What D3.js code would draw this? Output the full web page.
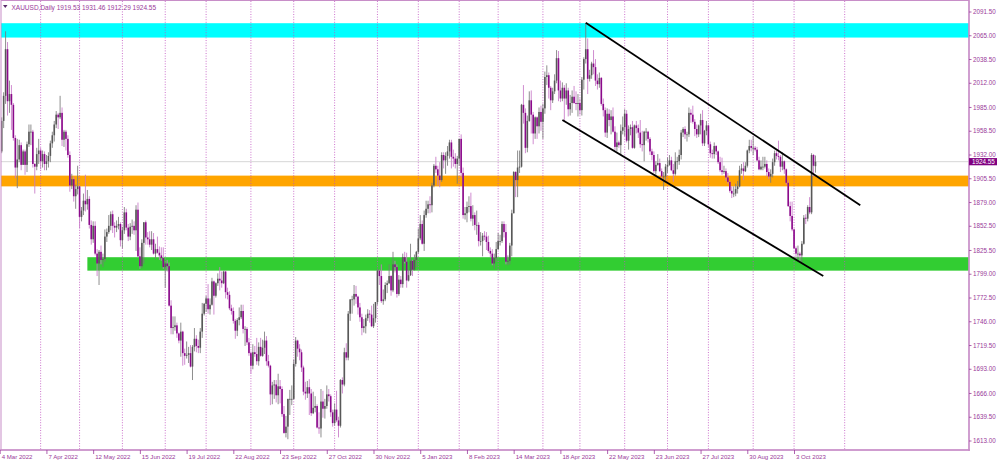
<!DOCTYPE html>
<html><head><meta charset="utf-8">
<script src="https://cdn.jsdelivr.net/npm/d3@7/dist/d3.min.js"></script>
<style>
body{margin:0;background:#fff}
svg{display:block}
text{font-family:"Liberation Sans",Arial,sans-serif}
</style>
</head><body>
<svg id="chart" width="1000" height="462"></svg>
<script>
const symbol = "XAUUSD,Daily";
// [date, open, high, low, close]
const candles = [
["2022-03-04",1936,1974,1934,1970],["2022-03-07",1970,2002,1962,1998],["2022-03-08",1998,2070,1989,2050],["2022-03-09",2050,2058,1976,1992],["2022-03-10",1992,2015,1979,2000],["2022-03-11",2000,2010,1960,1988],
["2022-03-14",1988,1990,1948,1951],["2022-03-15",1951,1954,1906,1918],["2022-03-16",1918,1950,1895,1927],["2022-03-17",1927,1949,1924,1943],["2022-03-18",1943,1946,1915,1921],
["2022-03-21",1921,1938,1921,1936],["2022-03-22",1936,1938,1910,1921],["2022-03-23",1921,1947,1913,1944],["2022-03-24",1944,1966,1941,1958],["2022-03-25",1958,1966,1943,1958],
["2022-03-28",1958,1960,1918,1922],["2022-03-29",1922,1923,1889,1919],["2022-03-30",1919,1940,1915,1933],["2022-03-31",1933,1950,1922,1937],["2022-04-01",1937,1940,1916,1925],
["2022-04-04",1925,1937,1918,1933],["2022-04-05",1933,1936,1915,1922],["2022-04-06",1922,1932,1915,1925],["2022-04-07",1925,1935,1918,1931],["2022-04-08",1931,1948,1924,1945],
["2022-04-11",1945,1958,1940,1954],["2022-04-12",1954,1970,1947,1966],["2022-04-13",1966,1981,1962,1977],["2022-04-14",1977,1979,1961,1974],
["2022-04-18",1974,1998,1972,1979],["2022-04-19",1979,1985,1942,1949],["2022-04-20",1949,1960,1941,1958],["2022-04-21",1958,1960,1937,1950],["2022-04-22",1950,1954,1929,1932],
["2022-04-25",1932,1936,1891,1898],["2022-04-26",1898,1911,1894,1905],["2022-04-27",1905,1908,1880,1886],["2022-04-28",1886,1899,1872,1894],["2022-04-29",1894,1920,1888,1897],
["2022-05-02",1897,1898,1850,1863],["2022-05-03",1863,1874,1858,1870],["2022-05-04",1870,1889,1865,1881],["2022-05-05",1881,1910,1869,1877],["2022-05-06",1877,1893,1871,1883],
["2022-05-09",1883,1886,1850,1854],["2022-05-10",1854,1859,1832,1838],["2022-05-11",1838,1858,1834,1853],["2022-05-12",1853,1858,1820,1822],["2022-05-13",1822,1827,1797,1811],
["2022-05-16",1811,1826,1787,1824],["2022-05-17",1824,1831,1810,1815],["2022-05-18",1815,1822,1807,1816],["2022-05-19",1816,1849,1813,1841],["2022-05-20",1841,1850,1835,1846],
["2022-05-23",1846,1865,1844,1853],["2022-05-24",1853,1869,1848,1866],["2022-05-25",1866,1870,1845,1853],["2022-05-26",1853,1857,1840,1851],["2022-05-27",1851,1859,1846,1853],
["2022-05-30",1853,1863,1849,1855],["2022-05-31",1855,1857,1830,1837],["2022-06-01",1837,1852,1828,1848],["2022-06-02",1848,1874,1844,1868],["2022-06-03",1868,1872,1848,1851],
["2022-06-06",1851,1855,1836,1841],["2022-06-07",1841,1856,1837,1852],["2022-06-08",1852,1860,1844,1853],["2022-06-09",1853,1858,1843,1848],["2022-06-10",1848,1876,1825,1871],
["2022-06-13",1871,1879,1818,1819],["2022-06-14",1819,1829,1805,1808],["2022-06-15",1808,1838,1806,1834],["2022-06-16",1834,1857,1811,1857],["2022-06-17",1857,1859,1832,1840],
["2022-06-20",1840,1846,1832,1838],["2022-06-21",1838,1847,1829,1832],["2022-06-22",1832,1847,1826,1838],["2022-06-23",1838,1845,1821,1822],["2022-06-24",1822,1833,1816,1827],
["2022-06-27",1827,1841,1822,1823],["2022-06-28",1823,1830,1815,1820],["2022-06-29",1820,1829,1814,1817],["2022-06-30",1817,1829,1805,1807],["2022-07-01",1807,1813,1784,1811],
["2022-07-04",1811,1815,1802,1808],["2022-07-05",1808,1812,1763,1764],["2022-07-06",1764,1770,1732,1739],["2022-07-07",1739,1752,1732,1740],["2022-07-08",1740,1752,1736,1742],
["2022-07-11",1742,1745,1728,1733],["2022-07-12",1733,1734,1722,1725],["2022-07-13",1725,1745,1707,1735],["2022-07-14",1735,1736,1697,1711],["2022-07-15",1711,1716,1698,1708],
["2022-07-18",1708,1724,1705,1709],["2022-07-19",1709,1718,1700,1711],["2022-07-20",1711,1720,1695,1696],["2022-07-21",1696,1720,1681,1718],["2022-07-22",1718,1739,1713,1727],
["2022-07-25",1727,1731,1712,1719],["2022-07-26",1719,1726,1711,1717],["2022-07-27",1717,1739,1711,1735],["2022-07-28",1735,1767,1728,1755],["2022-07-29",1755,1767,1753,1766],
["2022-08-01",1766,1775,1757,1772],["2022-08-02",1772,1788,1755,1760],["2022-08-03",1760,1772,1754,1765],["2022-08-04",1765,1795,1764,1791],["2022-08-05",1791,1792,1754,1775],
["2022-08-08",1775,1790,1773,1789],["2022-08-09",1789,1800,1786,1794],["2022-08-10",1794,1807,1781,1792],["2022-08-11",1792,1802,1784,1789],["2022-08-12",1789,1803,1788,1802],
["2022-08-15",1802,1803,1772,1779],["2022-08-16",1779,1784,1771,1776],["2022-08-17",1776,1780,1759,1761],["2022-08-18",1761,1765,1754,1758],["2022-08-19",1758,1762,1744,1747],
["2022-08-22",1747,1749,1727,1736],["2022-08-23",1736,1750,1730,1748],["2022-08-24",1748,1762,1742,1751],["2022-08-25",1751,1765,1749,1758],["2022-08-26",1758,1765,1733,1738],
["2022-08-29",1738,1741,1719,1738],["2022-08-30",1738,1740,1720,1723],["2022-08-31",1723,1728,1708,1711],["2022-09-01",1711,1713,1688,1697],["2022-09-02",1697,1721,1693,1712],
["2022-09-05",1712,1719,1707,1710],["2022-09-06",1710,1728,1698,1702],["2022-09-07",1702,1723,1697,1718],["2022-09-08",1718,1728,1707,1708],["2022-09-09",1708,1726,1707,1717],
["2022-09-12",1717,1735,1710,1725],["2022-09-13",1725,1730,1697,1702],["2022-09-14",1702,1709,1695,1697],["2022-09-15",1697,1698,1653,1665],["2022-09-16",1665,1679,1654,1675],
["2022-09-19",1675,1681,1660,1676],["2022-09-20",1676,1681,1656,1664],["2022-09-21",1664,1688,1654,1674],["2022-09-22",1674,1681,1655,1671],["2022-09-23",1671,1674,1640,1643],
["2022-09-26",1643,1652,1621,1622],["2022-09-27",1622,1641,1617,1629],["2022-09-28",1629,1660,1615,1660],["2022-09-29",1660,1670,1642,1660],["2022-09-30",1660,1675,1653,1660],
["2022-10-03",1660,1704,1659,1699],["2022-10-04",1699,1729,1696,1725],["2022-10-05",1725,1726,1707,1716],["2022-10-06",1716,1721,1703,1712],["2022-10-07",1712,1715,1690,1695],
["2022-10-10",1695,1697,1664,1668],["2022-10-11",1668,1679,1659,1666],["2022-10-12",1666,1680,1661,1673],["2022-10-13",1673,1682,1642,1666],["2022-10-14",1666,1671,1641,1644],
["2022-10-17",1644,1668,1643,1650],["2022-10-18",1650,1663,1645,1652],["2022-10-19",1652,1654,1627,1628],["2022-10-20",1628,1645,1621,1627],["2022-10-21",1627,1671,1617,1657],
["2022-10-24",1657,1669,1639,1649],["2022-10-25",1649,1660,1638,1652],["2022-10-26",1652,1675,1649,1665],["2022-10-27",1665,1671,1657,1663],["2022-10-28",1663,1665,1640,1645],
["2022-10-31",1645,1648,1629,1633],["2022-11-01",1633,1655,1630,1648],["2022-11-02",1648,1669,1634,1636],["2022-11-03",1636,1640,1617,1630],["2022-11-04",1630,1682,1628,1681],
["2022-11-07",1681,1684,1666,1676],["2022-11-08",1676,1717,1674,1712],["2022-11-09",1712,1722,1703,1706],["2022-11-10",1706,1758,1703,1755],["2022-11-11",1755,1771,1747,1771],
["2022-11-14",1771,1775,1755,1771],["2022-11-15",1771,1787,1764,1777],["2022-11-16",1777,1786,1766,1774],["2022-11-17",1774,1775,1754,1762],["2022-11-18",1762,1767,1746,1751],
["2022-11-21",1751,1755,1731,1739],["2022-11-22",1739,1749,1734,1741],["2022-11-23",1741,1754,1733,1750],["2022-11-24",1750,1760,1747,1755],["2022-11-25",1755,1759,1745,1754],
["2022-11-28",1754,1764,1740,1741],["2022-11-29",1741,1766,1739,1750],["2022-11-30",1750,1768,1745,1768],["2022-12-01",1768,1805,1765,1803],["2022-12-02",1803,1804,1787,1797],
["2022-12-05",1797,1810,1767,1769],["2022-12-06",1769,1782,1765,1771],["2022-12-07",1771,1790,1769,1787],["2022-12-08",1787,1792,1778,1789],["2022-12-09",1789,1810,1788,1797],
["2022-12-12",1797,1798,1775,1781],["2022-12-13",1781,1824,1779,1810],["2022-12-14",1810,1814,1801,1807],["2022-12-15",1807,1810,1773,1777],["2022-12-16",1777,1798,1775,1793],
["2022-12-19",1793,1797,1784,1788],["2022-12-20",1788,1822,1784,1818],["2022-12-21",1818,1824,1811,1813],["2022-12-22",1813,1823,1784,1792],["2022-12-23",1792,1804,1791,1798],
["2022-12-27",1798,1833,1797,1814],["2022-12-28",1814,1815,1797,1804],["2022-12-29",1804,1821,1803,1815],["2022-12-30",1815,1825,1807,1824],
["2023-01-03",1824,1850,1822,1839],["2023-01-04",1839,1865,1837,1855],["2023-01-05",1855,1859,1832,1833],["2023-01-06",1833,1870,1825,1865],
["2023-01-09",1865,1881,1862,1872],["2023-01-10",1872,1881,1867,1877],["2023-01-11",1877,1886,1867,1876],["2023-01-12",1876,1901,1868,1898],["2023-01-13",1898,1922,1896,1920],
["2023-01-16",1920,1930,1912,1916],["2023-01-17",1916,1920,1898,1909],["2023-01-18",1909,1924,1896,1904],["2023-01-19",1904,1935,1902,1932],["2023-01-20",1932,1935,1917,1926],
["2023-01-23",1926,1935,1911,1931],["2023-01-24",1931,1942,1920,1936],["2023-01-25",1936,1949,1928,1946],["2023-01-26",1946,1949,1917,1930],["2023-01-27",1930,1938,1919,1928],
["2023-01-30",1928,1934,1917,1922],["2023-01-31",1922,1931,1900,1928],["2023-02-01",1928,1950,1920,1950],["2023-02-02",1950,1955,1907,1912],["2023-02-03",1912,1918,1861,1865],
["2023-02-06",1865,1874,1860,1867],["2023-02-07",1867,1880,1857,1874],["2023-02-08",1874,1886,1868,1875],["2023-02-09",1875,1890,1858,1861],["2023-02-10",1861,1876,1853,1865],
["2023-02-13",1865,1868,1848,1854],["2023-02-14",1854,1870,1843,1854],["2023-02-15",1854,1857,1830,1836],["2023-02-16",1836,1846,1831,1836],["2023-02-17",1836,1845,1819,1842],
["2023-02-20",1842,1847,1837,1841],["2023-02-21",1841,1846,1826,1835],["2023-02-22",1835,1842,1823,1825],["2023-02-23",1825,1829,1818,1822],["2023-02-24",1822,1827,1809,1811],
["2023-02-27",1811,1822,1805,1817],["2023-02-28",1817,1835,1813,1827],["2023-03-01",1827,1845,1826,1836],["2023-03-02",1836,1843,1831,1836],["2023-03-03",1836,1858,1834,1855],
["2023-03-06",1855,1858,1840,1846],["2023-03-07",1846,1855,1810,1813],["2023-03-08",1813,1820,1809,1814],["2023-03-09",1814,1834,1810,1831],["2023-03-10",1831,1871,1819,1867],
["2023-03-13",1867,1914,1867,1913],["2023-03-14",1913,1914,1885,1904],["2023-03-15",1904,1937,1885,1918],["2023-03-16",1918,1937,1912,1919],["2023-03-17",1919,1989,1918,1988],
["2023-03-20",1988,2010,1967,1979],["2023-03-21",1979,1984,1934,1940],["2023-03-22",1940,1976,1935,1970],["2023-03-23",1970,2003,1969,1993],["2023-03-24",1993,2004,1956,1977],
["2023-03-27",1977,1980,1944,1956],["2023-03-28",1956,1975,1950,1974],["2023-03-29",1974,1975,1950,1964],["2023-03-30",1964,1985,1956,1980],["2023-03-31",1980,1987,1959,1969],
["2023-04-03",1969,1989,1950,1984],["2023-04-04",1984,2025,1978,2019],["2023-04-05",2019,2032,2010,2021],["2023-04-06",2021,2024,1995,2007],
["2023-04-10",2007,2009,1982,1993],["2023-04-11",1993,2007,1990,2003],["2023-04-12",2003,2022,2000,2015],["2023-04-13",2015,2049,2012,2040],["2023-04-14",2040,2048,1992,2004],
["2023-04-17",2004,2015,1991,1995],["2023-04-18",1995,2013,1992,2007],["2023-04-19",2007,2010,1969,1995],["2023-04-20",1995,2012,1988,2004],["2023-04-21",2004,2007,1975,1983],
["2023-04-24",1983,1999,1976,1990],["2023-04-25",1990,2004,1979,1997],["2023-04-26",1997,2009,1989,1990],["2023-04-27",1990,2003,1982,1989],["2023-04-28",1989,2000,1975,1990],
["2023-05-01",1990,1995,1977,1982],["2023-05-02",1982,2019,1976,2016],["2023-05-03",2016,2041,2005,2039],["2023-05-04",2039,2079,2034,2050],["2023-05-05",2050,2062,2000,2017],
["2023-05-08",2017,2027,2014,2021],["2023-05-09",2021,2036,2017,2034],["2023-05-10",2034,2049,2022,2030],["2023-05-11",2030,2039,2009,2015],["2023-05-12",2015,2022,2005,2011],
["2023-05-15",2011,2024,2007,2018],["2023-05-16",2018,2019,1987,1989],["2023-05-17",1989,1995,1975,1982],["2023-05-18",1982,1985,1952,1957],["2023-05-19",1957,1984,1951,1978],
["2023-05-22",1978,1983,1964,1971],["2023-05-23",1971,1982,1955,1975],["2023-05-24",1975,1985,1957,1958],["2023-05-25",1958,1964,1937,1941],["2023-05-26",1941,1957,1936,1946],
["2023-05-29",1946,1948,1940,1943],["2023-05-30",1943,1966,1932,1959],["2023-05-31",1959,1975,1955,1963],["2023-06-01",1963,1983,1953,1978],["2023-06-02",1978,1982,1946,1948],
["2023-06-05",1948,1965,1938,1961],["2023-06-06",1961,1966,1954,1963],["2023-06-07",1963,1970,1939,1940],["2023-06-08",1940,1966,1939,1965],["2023-06-09",1965,1970,1956,1962],
["2023-06-12",1962,1966,1951,1957],["2023-06-13",1957,1971,1940,1944],["2023-06-14",1944,1959,1936,1943],["2023-06-15",1943,1959,1925,1958],["2023-06-16",1958,1962,1948,1958],
["2023-06-19",1958,1959,1946,1950],["2023-06-20",1950,1952,1932,1936],["2023-06-21",1936,1939,1926,1932],["2023-06-22",1932,1936,1912,1914],["2023-06-23",1914,1925,1910,1921],
["2023-06-26",1921,1933,1920,1923],["2023-06-27",1923,1928,1913,1914],["2023-06-28",1914,1917,1903,1908],["2023-06-29",1908,1913,1893,1908],["2023-06-30",1908,1922,1902,1919],
["2023-07-03",1919,1929,1912,1921],["2023-07-04",1921,1932,1920,1926],["2023-07-05",1926,1930,1914,1915],["2023-07-06",1915,1922,1902,1911],["2023-07-07",1911,1935,1909,1925],
["2023-07-10",1925,1930,1916,1925],["2023-07-11",1925,1938,1921,1932],["2023-07-12",1932,1960,1927,1957],["2023-07-13",1957,1963,1952,1961],["2023-07-14",1961,1964,1950,1955],
["2023-07-17",1955,1958,1947,1955],["2023-07-18",1955,1985,1952,1979],["2023-07-19",1979,1983,1968,1977],["2023-07-20",1977,1987,1967,1969],["2023-07-21",1969,1972,1953,1961],
["2023-07-24",1961,1966,1951,1955],["2023-07-25",1955,1966,1952,1965],["2023-07-26",1965,1978,1955,1971],["2023-07-27",1971,1982,1942,1945],["2023-07-28",1945,1960,1942,1959],
["2023-07-31",1959,1970,1954,1965],["2023-08-01",1965,1966,1940,1944],["2023-08-02",1944,1947,1929,1934],["2023-08-03",1934,1938,1928,1933],["2023-08-04",1933,1946,1928,1942],
["2023-08-07",1942,1943,1932,1936],["2023-08-08",1936,1937,1922,1924],["2023-08-09",1924,1930,1913,1915],["2023-08-10",1915,1929,1910,1913],["2023-08-11",1913,1920,1911,1914],
["2023-08-14",1914,1917,1903,1907],["2023-08-15",1907,1912,1900,1902],["2023-08-16",1902,1903,1890,1892],["2023-08-17",1892,1897,1884,1889],["2023-08-18",1889,1897,1885,1889],
["2023-08-21",1889,1900,1886,1894],["2023-08-22",1894,1903,1889,1897],["2023-08-23",1897,1920,1896,1915],["2023-08-24",1915,1922,1911,1917],["2023-08-25",1917,1924,1904,1914],
["2023-08-28",1914,1924,1913,1920],["2023-08-29",1920,1938,1918,1937],["2023-08-30",1937,1949,1934,1942],["2023-08-31",1942,1949,1936,1940],["2023-09-01",1940,1953,1932,1940],
["2023-09-04",1940,1942,1936,1938],["2023-09-05",1938,1941,1925,1926],["2023-09-06",1926,1930,1915,1916],["2023-09-07",1916,1926,1915,1919],["2023-09-08",1919,1930,1915,1919],
["2023-09-11",1919,1930,1917,1922],["2023-09-12",1922,1926,1908,1913],["2023-09-13",1913,1917,1905,1908],["2023-09-14",1908,1916,1901,1911],["2023-09-15",1911,1928,1907,1924],
["2023-09-18",1924,1937,1920,1934],["2023-09-19",1934,1937,1927,1931],["2023-09-20",1931,1948,1926,1930],["2023-09-21",1930,1932,1913,1919],["2023-09-22",1919,1935,1915,1925],
["2023-09-25",1925,1926,1911,1916],["2023-09-26",1916,1917,1899,1901],["2023-09-27",1901,1904,1874,1875],["2023-09-28",1875,1880,1858,1864],["2023-09-29",1864,1880,1847,1849],
["2023-10-02",1849,1850,1827,1828],["2023-10-03",1828,1830,1815,1822],["2023-10-04",1822,1831,1816,1822],["2023-10-05",1822,1824,1813,1820],["2023-10-06",1820,1836,1810,1833],
["2023-10-09",1833,1865,1832,1862],["2023-10-10",1862,1866,1855,1861],["2023-10-11",1861,1876,1858,1874],["2023-10-12",1874,1885,1866,1868],["2023-10-13",1868,1934,1866,1932],
["2023-10-16",1932,1933,1908,1920],["2023-10-17",1919.53,1931.46,1912.29,1924.55]
];
const priceTicks = [2091.5,2065,2038.5,2012,1985,1958.5,1932,1905.5,1879,1852.5,1825.5,1799,1772.5,1746,1719.5,1693,1666,1639.5,1613];
const dateTicks = ["2022-03-04","2022-04-07","2022-05-12","2022-06-15","2022-07-19","2022-08-22","2022-09-23","2022-10-27","2022-11-30","2023-01-05","2023-02-08","2023-03-14","2023-04-18","2023-05-22","2023-06-23","2023-07-27","2023-08-30","2023-10-03"];
const futureSeparators = ["2023-11-01"];
// zones: start bar index, top price, bottom price, colour
const zoneStart = [-2, -2, 44];
const zoneTop = [2079, 1909, 1818];
const zoneBottom = [2063, 1897, 1803];
const zoneColor = ["#00FFFF", "#FFA500", "#32CD32"];
// channel lines: [barIndex1, price1, barIndex2, price2]
const channelLines = [[300, 2079.5, 441, 1876], [288, 1971, 422, 1797]];

const svg = d3.select("#chart");
const P = {left: 1, top: 1, right: 969, bottom: 450};
const parse = d3.timeParse("%Y-%m-%d");
const fmtDate = d3.timeFormat("%-d %b %Y");
const bars = candles.map((r, i) => ({i, key: r[0], date: parse(r[0]), o: r[1], h: r[2], l: r[3], c: r[4]}));
const idxOf = new Map(bars.map(b => [b.key, b.i]));
const last = bars[bars.length - 1];

const x = d3.scaleLinear().domain([0, 496.6]).range([1.7, 968.5]);
const y = d3.scaleLinear().domain([1613, 2091.5]).range([441, 12]);

svg.append("rect").attr("width", 1000).attr("height", 462).attr("fill", "#fff");
svg.append("defs").append("clipPath").attr("id", "plotclip")
  .append("rect").attr("x", P.left).attr("y", P.top).attr("width", P.right - P.left).attr("height", P.bottom - P.top);
const g = svg.append("g").attr("clip-path", "url(#plotclip)");

// zones
zoneTop.forEach((t, k) => {
  g.append("rect")
    .attr("x", x(zoneStart[k])).attr("y", y(t))
    .attr("width", P.right - x(zoneStart[k])).attr("height", y(zoneBottom[k]) - y(t))
    .attr("fill", zoneColor[k]);
});

// period separators (first bar of each month)
const sepX = [];
bars.forEach((b, i) => { if (i > 0 && b.date.getMonth() !== bars[i - 1].date.getMonth()) sepX.push(x(b.i)); });
futureSeparators.forEach(d => {
  const days = Math.round((parse(d) - last.date) / 86400000);
  sepX.push(x(last.i + days));
});
g.selectAll("line.sep").data(sepX).join("line").attr("class", "sep")
  .attr("x1", d => d).attr("x2", d => d).attr("y1", P.top).attr("y2", P.bottom)
  .attr("stroke", "#c050c0").attr("stroke-width", 0.8).attr("stroke-dasharray", "1,1.6");

// bid line
g.append("line").attr("x1", P.left).attr("x2", P.right).attr("y1", y(last.c)).attr("y2", y(last.c))
  .attr("stroke", "#d6d6d6").attr("stroke-width", 1);

// candles
const cg = g.append("g");
const bw = 1.6;
cg.selectAll("line.wick").data(bars).join("line").attr("class", "wick")
  .attr("x1", d => x(d.i)).attr("x2", d => x(d.i))
  .attr("y1", d => y(d.h)).attr("y2", d => y(d.l))
  .attr("stroke", d => d.c >= d.o ? "#7a7a7a" : "#c878c8").attr("stroke-width", 0.85);
cg.selectAll("rect.body").data(bars).join("rect").attr("class", "body")
  .attr("x", d => x(d.i) - bw / 2).attr("width", bw)
  .attr("y", d => y(Math.max(d.o, d.c)))
  .attr("height", d => Math.max(0.8, Math.abs(y(d.o) - y(d.c))))
  .attr("fill", d => d.c >= d.o ? "#585858" : "#8b0a8b");

// channel
g.selectAll("line.ch").data(channelLines).join("line").attr("class", "ch")
  .attr("x1", d => x(d[0])).attr("y1", d => y(d[1]))
  .attr("x2", d => x(d[2])).attr("y2", d => y(d[3]))
  .attr("stroke", "#000").attr("stroke-width", 1.8);

// frame and axes
const axisCol = "#c88ec8";
const txtCol = "#9a3a9a";
svg.append("rect").attr("x", 1).attr("y", 0.5).attr("width", P.right - 1).attr("height", P.bottom - 0.5)
  .attr("fill", "none").attr("stroke", axisCol).attr("stroke-width", 1);
svg.append("line").attr("x1", P.right).attr("x2", P.right).attr("y1", 0).attr("y2", P.bottom + 1)
  .attr("stroke", axisCol).attr("stroke-width", 1.4);
svg.append("line").attr("x1", 0).attr("x2", P.right + 1).attr("y1", P.bottom).attr("y2", P.bottom)
  .attr("stroke", axisCol).attr("stroke-width", 1.4);

// price axis
const ya = svg.append("g");
priceTicks.forEach(v => {
  ya.append("line").attr("x1", P.right).attr("x2", P.right + 2.5).attr("y1", y(v)).attr("y2", y(v))
    .attr("stroke", txtCol).attr("stroke-width", 0.8);
  ya.append("text").attr("x", 973).attr("y", y(v) + 2.2).attr("font-size", 6.3).attr("fill", txtCol).text(v.toFixed(2));
});
// current price label
ya.append("rect").attr("x", P.right).attr("y", y(last.c) - 3.6).attr("width", 28).attr("height", 7.2).attr("fill", "#800080");
ya.append("text").attr("x", 972).attr("y", y(last.c) + 2.3).attr("font-size", 6.3).attr("fill", "#fff").text(last.c.toFixed(2));

// time axis
const xa = svg.append("g");
dateTicks.forEach(d => {
  const i = idxOf.get(d);
  xa.append("line").attr("x1", x(i) - 1.5).attr("x2", x(i) - 1.5).attr("y1", P.bottom).attr("y2", P.bottom + 4)
    .attr("stroke", txtCol).attr("stroke-width", 0.8);
  xa.append("text").attr("x", x(i)).attr("y", 458.5).attr("font-size", 6.1).attr("fill", txtCol).text(fmtDate(parse(d)));
});

// title
svg.append("path").attr("d", "M3,5 L7.5,5 L5.25,8 Z").attr("fill", "#5a2a6a");
svg.append("text").attr("x", 11.5).attr("y", 9.5).attr("font-size", 6.5).attr("fill", txtCol)
  .text(`${symbol}  ${last.o.toFixed(2)} ${last.h.toFixed(2)} ${last.l.toFixed(2)} ${last.c.toFixed(2)}`);
</script>
</body></html>
